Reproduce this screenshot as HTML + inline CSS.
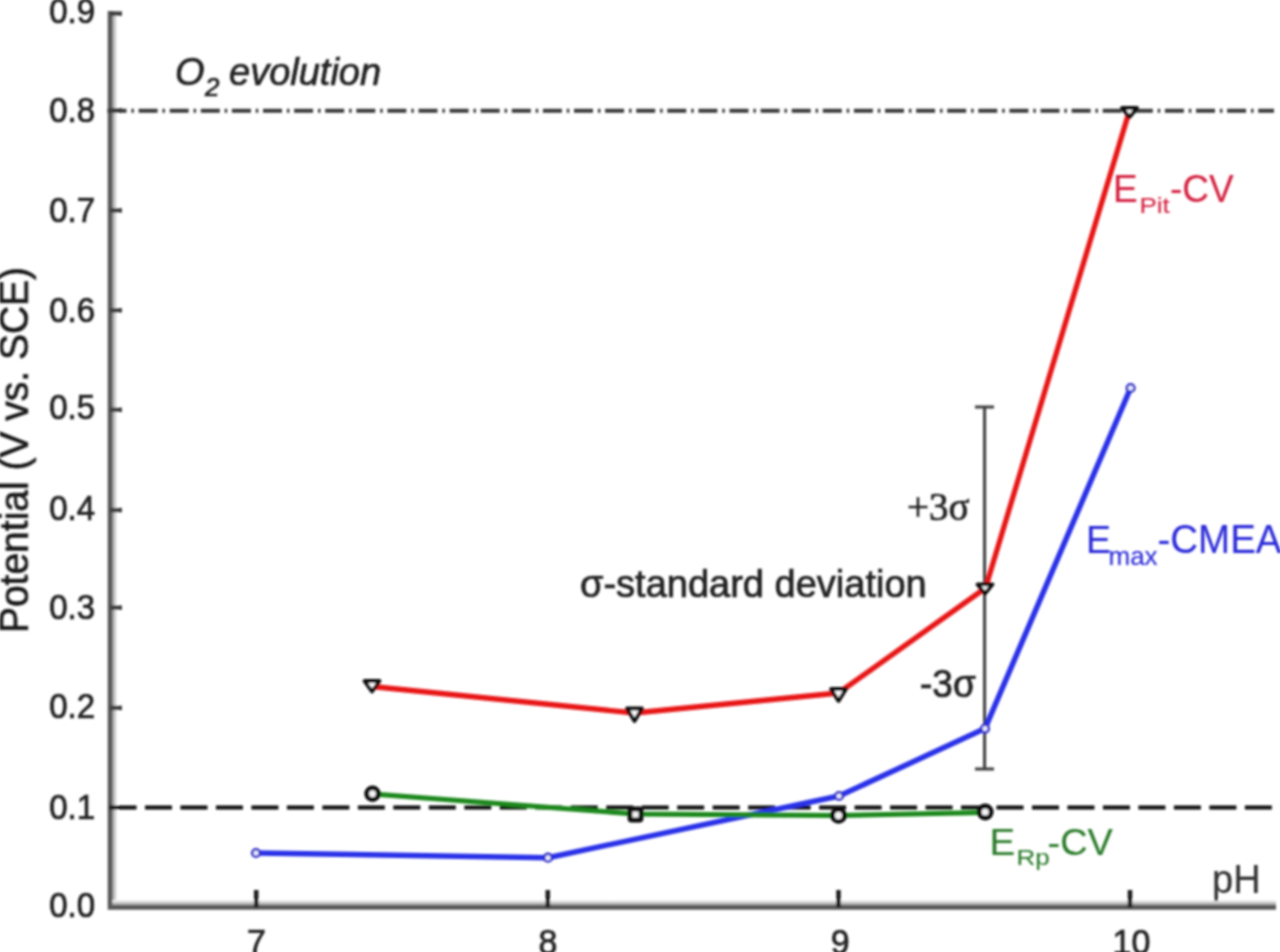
<!DOCTYPE html>
<html>
<head>
<meta charset="utf-8">
<style>
html,body{margin:0;padding:0;background:#fff;width:1280px;height:952px;overflow:hidden}
svg{display:block}
text{font-family:"Liberation Sans",sans-serif}
</style>
</head>
<body>
<svg width="1280" height="952" viewBox="0 0 1280 952">
<defs>
<filter id="bl" x="-5%" y="-5%" width="110%" height="110%"><feGaussianBlur stdDeviation="1.0"/></filter>
</defs>
<rect width="1280" height="952" fill="#fff"/>
<g filter="url(#bl)">
<linearGradient id="gy" x1="0" x2="1" y1="0" y2="0"><stop offset="0" stop-color="#8a8a8a"/><stop offset="1" stop-color="#fff"/></linearGradient>
<linearGradient id="gx" x1="0" x2="0" y1="1" y2="0"><stop offset="0" stop-color="#8a8a8a"/><stop offset="1" stop-color="#fff"/></linearGradient>
<rect x="111.5" y="11" width="6" height="896.4" fill="url(#gy)"/>
<rect x="110.0" y="899.9" width="1166.0" height="6" fill="url(#gx)"/>
<path d="M110.0,11 V907.4 H1276" fill="none" stroke="#5a5a5a" stroke-width="4.6" stroke-linejoin="miter"/>
<g stroke="#404040" stroke-width="4.5">
<line x1="110.0" y1="13.6" x2="122.0" y2="13.6"/>
<line x1="110.0" y1="110.4" x2="122.0" y2="110.4"/>
<line x1="110.0" y1="210.4" x2="122.0" y2="210.4"/>
<line x1="110.0" y1="310.3" x2="122.0" y2="310.3"/>
<line x1="110.0" y1="409.8" x2="122.0" y2="409.8"/>
<line x1="110.0" y1="510.1" x2="122.0" y2="510.1"/>
<line x1="110.0" y1="607.6" x2="122.0" y2="607.6"/>
<line x1="110.0" y1="707.9" x2="122.0" y2="707.9"/>
</g>
<g stroke="#1e1e1e" stroke-width="4.5">
<line x1="256.2" y1="890" x2="256.2" y2="907.4"/>
<line x1="547.8" y1="890" x2="547.8" y2="907.4"/>
<line x1="838.5" y1="890" x2="838.5" y2="907.4"/>
<line x1="1130" y1="890" x2="1130" y2="907.4"/>
</g>
<text x="0" y="0" text-anchor="end" transform="translate(95,22.5) scale(1,1.05)" style="font-size:33px;fill:#222;stroke:#222;stroke-width:0.7px">0.9</text>
<text x="0" y="0" text-anchor="end" transform="translate(95,122) scale(1,1.05)" style="font-size:33px;fill:#222;stroke:#222;stroke-width:0.7px">0.8</text>
<text x="0" y="0" text-anchor="end" transform="translate(95,221.5) scale(1,1.05)" style="font-size:33px;fill:#222;stroke:#222;stroke-width:0.7px">0.7</text>
<text x="0" y="0" text-anchor="end" transform="translate(95,321.5) scale(1,1.05)" style="font-size:33px;fill:#222;stroke:#222;stroke-width:0.7px">0.6</text>
<text x="0" y="0" text-anchor="end" transform="translate(95,419.3) scale(1,1.05)" style="font-size:33px;fill:#222;stroke:#222;stroke-width:0.7px">0.5</text>
<text x="0" y="0" text-anchor="end" transform="translate(95,520) scale(1,1.05)" style="font-size:33px;fill:#222;stroke:#222;stroke-width:0.7px">0.4</text>
<text x="0" y="0" text-anchor="end" transform="translate(95,618.7) scale(1,1.05)" style="font-size:33px;fill:#222;stroke:#222;stroke-width:0.7px">0.3</text>
<text x="0" y="0" text-anchor="end" transform="translate(95,717.5) scale(1,1.05)" style="font-size:33px;fill:#222;stroke:#222;stroke-width:0.7px">0.2</text>
<text x="0" y="0" text-anchor="end" transform="translate(95,818.7) scale(1,1.05)" style="font-size:33px;fill:#222;stroke:#222;stroke-width:0.7px">0.1</text>
<text x="0" y="0" text-anchor="end" transform="translate(95,917) scale(1,1.05)" style="font-size:33px;fill:#222;stroke:#222;stroke-width:0.7px">0.0</text>
<text x="0" y="0" text-anchor="middle" transform="translate(256.5,953.5) scale(1,1.05)" style="font-size:34px;fill:#222;stroke:#222;stroke-width:0.7px">7</text>
<text x="0" y="0" text-anchor="middle" transform="translate(548,953.5) scale(1,1.05)" style="font-size:34px;fill:#222;stroke:#222;stroke-width:0.7px">8</text>
<text x="0" y="0" text-anchor="middle" transform="translate(840.2,953.5) scale(1,1.05)" style="font-size:34px;fill:#222;stroke:#222;stroke-width:0.7px">9</text>
<text x="0" y="0" text-anchor="middle" transform="translate(1131.5,953.5) scale(1,1.05)" style="font-size:34px;fill:#222;stroke:#222;stroke-width:0.7px">10</text>
<text x="0" y="0" text-anchor="middle" transform="translate(28,450) rotate(-90) scale(1,1.06)" style="font-size:39px;fill:#1a1a1a;stroke:#1a1a1a;stroke-width:0.7px">Potential (V vs. SCE)</text>
<text x="0" y="0" transform="translate(1212,893) scale(1,1.05)" style="font-size:38px;fill:#333;stroke:#333;stroke-width:0.2px">pH</text>
<text x="0" y="0" transform="translate(175,85) scale(1,1.0)" style="font-style:italic;font-size:38px;fill:#222;stroke:#222;stroke-width:0.7px">O</text>
<text x="0" y="0" transform="translate(205,95.5) scale(1,1.0)" style="font-style:italic;font-size:26px;fill:#222;stroke:#222;stroke-width:0.7px">2</text>
<text x="0" y="0" transform="translate(229,85) scale(1,1.0)" style="font-style:italic;font-size:38px;fill:#222;stroke:#222;stroke-width:0.7px">evolution</text>
<line x1="107.5" y1="110.8" x2="1274" y2="110.8" stroke="#3a3a3a" stroke-width="4" stroke-dasharray="19 4.9 2.5 4.7"/>
<line x1="109.5" y1="807.4" x2="1272" y2="807.4" stroke="#0a0a0a" stroke-width="4" stroke-dasharray="27 8.48"/>
<g stroke="#3c3c3c" stroke-width="3"><line x1="984.6" y1="407" x2="984.6" y2="769"/><line x1="975" y1="407" x2="994" y2="407"/><line x1="975" y1="769" x2="994" y2="769"/></g>
<polyline points="372,686.5 634.5,713 838.5,693 985.5,588 1129.5,110.5" fill="none" stroke="#e81418" stroke-width="5.3" stroke-linejoin="round"/>
<polyline points="256,853 548,857.7 839,796 985,728.6 1130.6,388" fill="none" stroke="#2a32e8" stroke-width="5.5" stroke-linejoin="round"/>
<polyline points="372.5,794 635.5,814 838.5,815.5 985.2,812.5" fill="none" stroke="#1a881a" stroke-width="5" stroke-linejoin="round"/>
<g fill="#fff" stroke="#111" stroke-width="3.8" stroke-linejoin="round">
<path d="M364.5,681 H379.5 L372,691.5 Z"/>
<path d="M627.0,708.5 H642.0 L634.5,721 Z"/>
<path d="M831.0,689 H846.0 L838.5,701 Z"/>
<path d="M977.5,584.4 H992.5 L985,593.5 Z"/>
<path d="M1122.0,108 H1137.0 L1129.5,117 Z"/>
</g>
<g fill="#eef" stroke="#3030c8" stroke-width="2.6">
<circle cx="256" cy="853" r="3.8"/>
<circle cx="548" cy="857.7" r="3.8"/>
<circle cx="839" cy="796" r="3.8"/>
<circle cx="985" cy="728.6" r="3.8"/>
<circle cx="1130.6" cy="388" r="3.8"/>
</g>
<g fill="#f4f4f4" stroke="#0a0a0a" stroke-width="4.8">
<circle cx="372.5" cy="793.7" r="5.8"/>
<rect x="630" y="809" width="11" height="11" rx="1.5"/>
<circle cx="838.5" cy="815.4" r="6.0"/>
<circle cx="985.2" cy="812" r="6.0"/>
</g>
<text x="0" y="0" transform="translate(1113,202) scale(1,1.05)" style="font-size:37px;fill:#d42040;stroke:#d42040;stroke-width:0.1px">E</text>
<text x="0" y="0" transform="translate(1139.5,212.5) scale(1,0.88)" style="font-size:26px;fill:#d42040;stroke:#d42040;stroke-width:0.1px">Pit</text>
<text x="0" y="0" transform="translate(1170,202) scale(1,1.05)" style="font-size:37px;fill:#d42040;stroke:#d42040;stroke-width:0.1px">-CV</text>
<text x="0" y="0" transform="translate(1086,553) scale(1,1.05)" style="font-size:37.5px;fill:#2a2ad8;stroke:#2a2ad8;stroke-width:0.1px">E</text>
<text x="0" y="0" transform="translate(1108.5,565) scale(1,1.0)" style="font-size:26px;fill:#2a2ad8;stroke:#2a2ad8;stroke-width:0.1px">max</text>
<text x="0" y="0" transform="translate(1157.5,553) scale(1,1.05)" style="font-size:38.5px;fill:#2a2ad8;stroke:#2a2ad8;stroke-width:0.1px">-CMEA</text>
<text x="0" y="0" transform="translate(989.5,855) scale(1,0.96)" style="font-size:38.5px;fill:#2a7a2a;stroke:#2a7a2a;stroke-width:0.1px">E</text>
<text x="0" y="0" transform="translate(1016.5,865) scale(1,0.88)" style="font-size:26px;fill:#2a7a2a;stroke:#2a7a2a;stroke-width:0.1px">Rp</text>
<text x="0" y="0" transform="translate(1047.5,855) scale(1,0.97)" style="font-size:38px;fill:#2a7a2a;stroke:#2a7a2a;stroke-width:0.1px">-CV</text>
<text x="0" y="0" transform="translate(580,596.5) scale(1,1.0)" style="font-size:38px;fill:#222;stroke:#222;stroke-width:0.7px">σ-standard deviation</text>
<text x="0" y="0" transform="translate(907,520) scale(1,1.05)" style="font-family:'Liberation Serif',serif;font-size:39px;fill:#222;stroke:#222;stroke-width:0.7px">+3σ</text>
<text x="0" y="0" transform="translate(920,697) scale(1,1.05)" style="font-size:37px;fill:#222;stroke:#222;stroke-width:0.7px">-3σ</text>
</g>
</svg>
</body>
</html>
